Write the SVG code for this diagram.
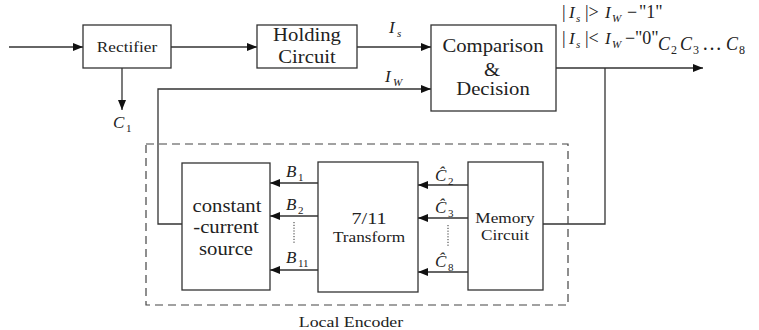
<svg xmlns="http://www.w3.org/2000/svg" width="759" height="330" viewBox="0 0 759 330">
  <style>
    .box { fill: #ffffff; stroke: #333333; stroke-width: 1.3; }
    .wire { fill: none; stroke: #333333; stroke-width: 1.3; }
    .arrow { marker-end: url(#head); }
    .dash { fill: none; stroke: #444444; stroke-width: 1.2; stroke-dasharray: 8 5; }
    .dots { fill: none; stroke: #333333; stroke-width: 1; stroke-dasharray: 1.2 1.6; }
    text { font-family: "Liberation Serif", "Times New Roman", serif; fill: #222222; }
    .lbl { font-size: 18px; text-anchor: middle; }
    .sm { font-size: 15px; text-anchor: middle; }
    .it { font-style: italic; font-size: 17px; }
    .rule { font-size: 18px; }
    .sub { font-size: 11px; }
    .subi { font-size: 11px; font-style: italic; }
  </style>
  <defs>
    <marker id="head" markerUnits="userSpaceOnUse" markerWidth="11" markerHeight="9" refX="10" refY="4" orient="auto">
      <path d="M0,0 L10,4 L0,8 z" fill="#111111"/>
    </marker>
  </defs>

  <!-- connectors -->
  <g id="connectors">
    <line class="wire arrow" x1="9" y1="47" x2="83" y2="47"/>
    <line class="wire arrow" x1="171" y1="47" x2="257" y2="47"/>
    <line class="wire arrow" x1="122" y1="68" x2="122" y2="110"/>
    <line class="wire arrow" x1="357" y1="47" x2="431" y2="47"/>
    <path class="wire arrow" d="M182,224 H158 V89 H431"/>
    <line class="wire arrow" x1="556" y1="68" x2="703" y2="68"/>
    <path class="wire" d="M605,68 V224 H543"/>
    <line class="wire arrow" x1="318" y1="183" x2="270" y2="183"/>
    <line class="wire arrow" x1="318" y1="216" x2="270" y2="216"/>
    <line class="wire arrow" x1="318" y1="270" x2="270" y2="270"/>
    <line class="dots" x1="294" y1="222" x2="294" y2="243"/>
    <line class="wire arrow" x1="468" y1="185" x2="418" y2="185"/>
    <line class="wire arrow" x1="468" y1="218" x2="418" y2="218"/>
    <line class="wire arrow" x1="468" y1="272" x2="418" y2="272"/>
    <line class="dots" x1="448" y1="225" x2="448" y2="247"/>
  </g>

  <!-- signal labels -->
  <g id="labels">
    <text class="it" x="113" y="128">C</text><text class="sub" x="126" y="132">1</text>
    <text class="it" x="389" y="33">I</text><text class="subi" x="397" y="37">s</text>
    <text class="it" x="385" y="82">I</text><text class="subi" x="393" y="86">W</text>

    <text class="it" x="286" y="177">B</text><text class="sub" x="298" y="181">1</text>
    <text class="it" x="286" y="210">B</text><text class="sub" x="298" y="214">2</text>
    <text class="it" x="286" y="263">B</text><text class="sub" x="298" y="267">11</text>

    <text class="it" x="435" y="181">Ĉ</text><text class="sub" x="448" y="185">2</text>
    <text class="it" x="435" y="213">Ĉ</text><text class="sub" x="448" y="217">3</text>
    <text class="it" x="435" y="267">Ĉ</text><text class="sub" x="448" y="271">8</text>

    <!-- decision rule -->
    <text class="rule" x="562" y="18">|</text>
    <text class="it" x="569" y="18">I</text><text class="subi" x="576" y="22">s</text>
    <text class="rule" x="585" y="18">|&gt;</text>
    <text class="it" x="605" y="18">I</text><text class="subi" x="612" y="22">W</text>
    <text class="rule" x="627" y="18">−</text>
    <text class="rule" x="639" y="18">"1"</text>

    <text class="rule" x="562" y="44">|</text>
    <text class="it" x="569" y="44">I</text><text class="subi" x="576" y="48">s</text>
    <text class="rule" x="585" y="44">|&lt;</text>
    <text class="it" x="605" y="44">I</text><text class="subi" x="612" y="48">W</text>
    <text class="rule" x="625" y="44">−</text>
    <text class="rule" x="635" y="44">"0"</text>

    <text class="it" x="658" y="50" style="font-size:18px">C</text><text class="sub" x="671" y="54" style="font-size:12px">2</text>
    <text class="it" x="680" y="50" style="font-size:18px">C</text><text class="sub" x="693" y="54" style="font-size:12px">3</text>
    <text class="rule" x="702" y="50" style="font-size:20px">…</text>
    <text class="it" x="726" y="50" style="font-size:18px">C</text><text class="sub" x="739" y="54" style="font-size:12px">8</text>
  </g>

  <g id="rectifier">
    <rect class="box" x="83" y="25" width="88" height="43"/>
    <text class="sm" transform="translate(127,52) scale(1.15,1)">Rectifier</text>
  </g>

  <g id="holding">
    <rect class="box" x="257" y="25" width="100" height="43"/>
    <text class="lbl" transform="translate(307,41) scale(1.15,1)">Holding</text>
    <text class="lbl" transform="translate(307,63) scale(1.15,1)">Circuit</text>
  </g>

  <g id="comparison">
    <rect class="box" x="431" y="25" width="125" height="86"/>
    <text class="lbl" transform="translate(493,52) scale(1.15,1)">Comparison</text>
    <text class="lbl" transform="translate(492,76) scale(1.15,1)">&amp;</text>
    <text class="lbl" transform="translate(493,95) scale(1.15,1)">Decision</text>
  </g>

  <g id="local-encoder">
    <rect class="dash" x="146" y="144" width="422" height="161"/>
    <text class="sm" style="font-size:15.5px" transform="translate(351,327) scale(1.15,1)">Local Encoder</text>
  </g>

  <g id="current-source">
    <rect class="box" x="182" y="163" width="88" height="127"/>
    <text class="lbl" transform="translate(227,212) scale(1.15,1)">constant</text>
    <text class="lbl" transform="translate(226,233) scale(1.15,1)">-current</text>
    <text class="lbl" transform="translate(226,255) scale(1.15,1)">source</text>
  </g>

  <g id="transform">
    <rect class="box" x="318" y="162" width="100" height="130"/>
    <text class="lbl" style="font-size:17.5px" transform="translate(369,224) scale(1.15,1)">7/11</text>
    <text class="sm" transform="translate(369,242) scale(1.15,1)">Transform</text>
  </g>

  <g id="memory">
    <rect class="box" x="468" y="162" width="75" height="128"/>
    <text class="sm" transform="translate(505,223) scale(1.15,1)">Memory</text>
    <text class="sm" transform="translate(505,240) scale(1.15,1)">Circuit</text>
  </g>
</svg>
